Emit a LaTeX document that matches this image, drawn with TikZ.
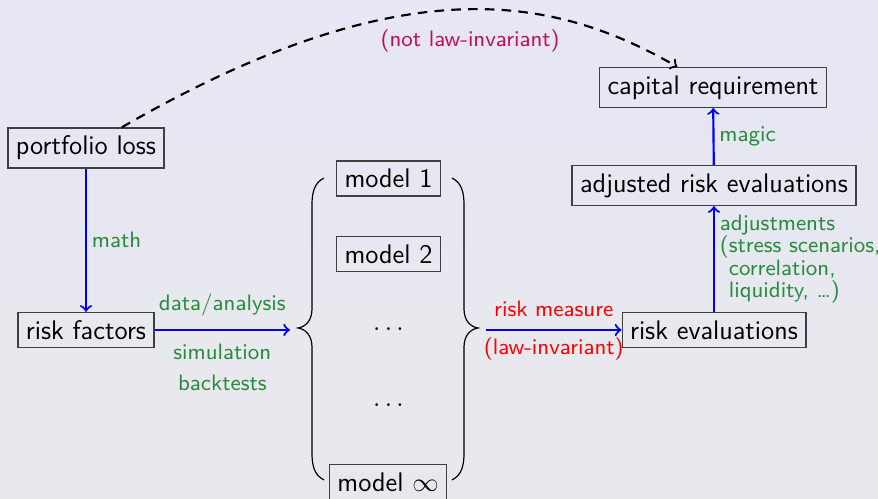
\documentclass[tikz,border=0pt]{standalone}
\usepackage{tikz}

\definecolor{lblgreen}{RGB}{40,140,60}
\definecolor{notlaw}{RGB}{195,15,85}
\definecolor{bgtop}{RGB}{231,231,245}
\definecolor{bgbottom}{RGB}{232,232,236}

\begin{document}
\begin{tikzpicture}[x=0.41667pt,y=0.41667pt,
  every node/.style={font=\sffamily\fontsize{11.2}{13}\selectfont},
  box/.style={draw=black!75,line width=0.5pt},
  lbl/.style={text=lblgreen,inner sep=2pt,font=\sffamily\fontsize{9.3}{9.4}\selectfont},
  redlbl/.style={lbl,text=red},
  flow/.style={->,blue,line width=0.9pt}]
\shade[top color=bgtop,bottom color=bgbottom] (0,0) rectangle (878,499);
\useasboundingbox (0,0) rectangle (878,499);

% main chain
\node[box] (loss) at (86,351) {portfolio loss};
\node[box] (factors) at (86,169) {risk factors};
\node[box] (evals) at (714,169) {risk evaluations};
\node[box] (adjusted) at (714,313.5) {adjusted risk evaluations};
\node[box] (capital) at (713,411.5) {capital requirement};

% the family of models
\node[box] (model1) at (388.5,320.5) {model 1};
\node[box] (model2) at (388.5,245) {model 2};
\node[anchor=base] (dots1) at (388.5,168) {$\dots$};
\node[anchor=base] (dots2) at (388.5,92) {$\dots$};
\node[box] (modelinf) at (388,17) {model $\infty$};

% braces round the models (right one is the mirror image)
\foreach \s/\o in {1/0,-1/776}
  \draw[shift={(\o,0)},xscale=\s,line width=0.5pt]
    (324,321) .. controls (314,316) and (312,306) .. (312,294) -- (312,190)
    .. controls (312,178) and (305,172) .. (298,171)
    .. controls (305,170) and (312,164) .. (312,152) -- (312,46)
    .. controls (312,34) and (314,24) .. (324,19);
\coordinate (lbrace) at (290,169);
\coordinate (rbrace) at (486,169);

% arrows
\draw[flow] (loss) -- (factors) node[lbl,right,midway] (mathlbl) {math};
\draw[flow] (factors.east) -- (lbrace)
  node[lbl,above=3.4pt,midway] (datalbl) {data/analysis}
  node[lbl,below=3.4pt,midway,align=center] (simlbl) {simulation\\[3.4pt]backtests};
\draw[flow] (rbrace) -- (evals.west)
  node[redlbl,above=2.9pt,midway] (measurelbl) {risk measure}
  node[redlbl,below=0.8pt,midway] (lawlbl) {(law-invariant)};
\draw[flow] (evals) -- (adjusted)
  node[lbl,right,midway,align=left] (adjlbl) {adjustments\\(stress scenarios,\\\phantom{(}correlation,\\\phantom{(}liquidity, \dots)};
\draw[flow] (adjusted) -- (capital) node[lbl,right,midway] (magiclbl) {magic};
\draw[->,line width=0.9pt,dash pattern=on 4pt off 3pt] (loss.30)
  .. controls +(282,163) and +(-122,70.5) .. (capital.150)
  node[lbl,text=notlaw,pos=0.52,below=6.2pt] (notlawlbl) {(not law-invariant)};
\end{tikzpicture}
\end{document}
